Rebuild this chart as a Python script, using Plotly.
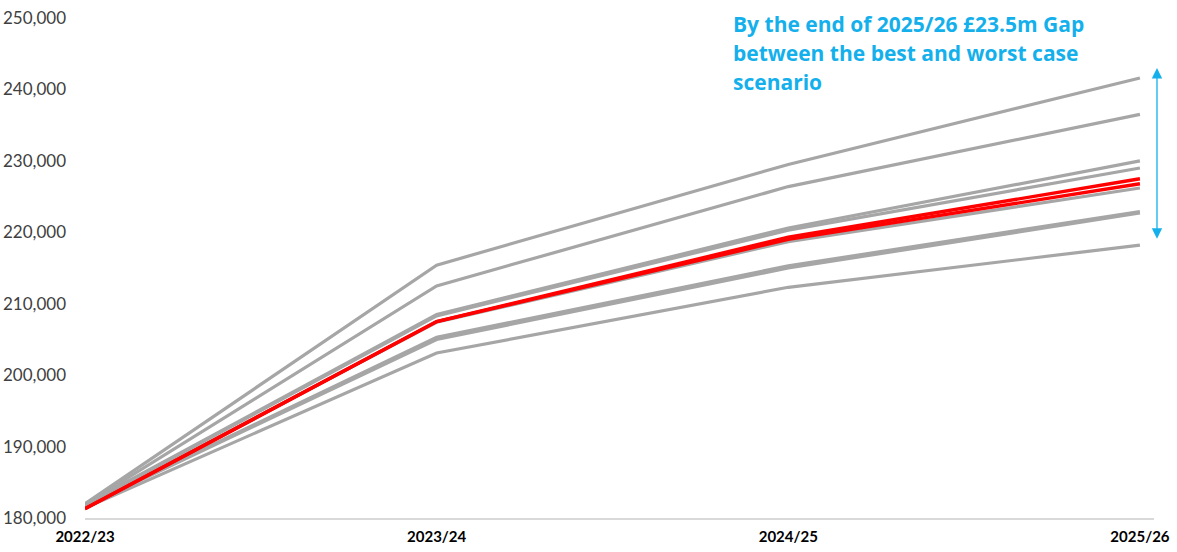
import plotly.graph_objects as go

# Financial years on the x axis
years = ["2022/23", "2023/24", "2024/25", "2025/26"]

# Scenario projections (£000s)
scenario_1 = [182000, 215400, 229500, 241600]
scenario_2 = [181900, 212500, 226400, 236500]
scenario_3 = [181900, 208500, 220600, 230000]
scenario_4 = [181800, 208300, 220300, 229000]
scenario_5 = [181500, 207400, 218700, 226200]
scenario_6 = [181700, 205300, 215300, 222900]
scenario_7 = [181600, 205000, 215000, 222700]
scenario_8 = [181400, 203100, 212300, 218200]

# Central scenario pair (highlighted in red)
central_a = [181300, 207500, 219300, 227500]
central_b = [181300, 207500, 219000, 226800]

# Y axis ticks
y_ticks = [180000, 190000, 200000, 210000, 220000, 230000, 240000, 250000]
y_labels = [f"{v:,}" for v in y_ticks]

# Gap annotation, one entry per line
gap_lines = ["By the end of 2025/26 £23.5m Gap",
             "between the best and worst case",
             "scenario"]
arrow_top = 243000
arrow_bottom = 218900

GREY = "#A6A6A6"
RED = "#FF0000"
BLUE = "#14B0EC"

xpos = list(range(len(years)))

fig = go.Figure()
for series in [scenario_1, scenario_2, scenario_3, scenario_4, scenario_5,
               scenario_6, scenario_7, scenario_8]:
    fig.add_trace(go.Scatter(x=xpos, y=series, mode="lines",
                             line=dict(color=GREY, width=3.2),
                             hoverinfo="skip", showlegend=False))
for series in [central_a, central_b]:
    fig.add_trace(go.Scatter(x=xpos, y=series, mode="lines",
                             line=dict(color=RED, width=3.4),
                             hoverinfo="skip", showlegend=False))

# Double-headed arrow spanning best to worst case
fig.add_annotation(
    x=1.0028, y=arrow_top, xref="paper", yref="y",
    ax=0, ay=arrow_bottom, axref="pixel", ayref="y",
    text="", showarrow=True, arrowside="end+start",
    arrowhead=2, startarrowhead=2, arrowsize=1.6, startarrowsize=1.6,
    arrowwidth=1.3, arrowcolor=BLUE,
)

# Text block: line centres at 24, 53, 82 px from the top of the page
for i, line in enumerate(gap_lines):
    y_px = 24 + 29 * i
    fig.add_annotation(
        x=(731 - 85) / 1069, y=(518 - y_px) / 500, xref="paper", yref="paper", text=line,
        showarrow=False, align="left", xanchor="left", yanchor="middle",
        font=dict(family="Open Sans", size=21, color=BLUE, weight="bold"),
    )

fig.update_layout(
    width=1177, height=552,
    margin=dict(l=85, r=23, t=18, b=34),
    paper_bgcolor="white", plot_bgcolor="white",
    showlegend=False,
)

fig.update_xaxes(
    range=[0, 3.04], tickmode="array", tickvals=xpos, ticktext=years,
    showgrid=False, zeroline=False, automargin=False,
    showline=True, linecolor="#D9D9D9", linewidth=1.5,
    ticks="", ticklabelstandoff=4,
    tickfont=dict(family="Lato", size=15, color="#000000", weight="bold"),
)
fig.update_yaxes(
    range=[180000, 250000], tickmode="array", tickvals=y_ticks, ticktext=y_labels,
    showgrid=False, zeroline=False, showline=False, ticks="", automargin=False,
    ticklabelstandoff=18,
    tickfont=dict(family="Lato", size=17, color="#404040"),
)

fig.write_html("out.html")
